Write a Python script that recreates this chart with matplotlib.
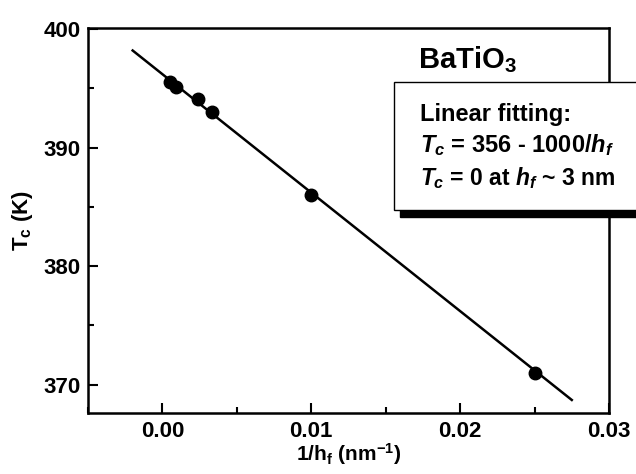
import matplotlib
matplotlib.use("Agg")
import matplotlib.pyplot as plt
from matplotlib.patches import Rectangle
from matplotlib.ticker import MultipleLocator
import numpy as np

# data
inv_h = [0.0005, 0.0009, 0.0024, 0.0033, 0.010, 0.025]
tc = [395.5, 395.1, 394.1, 393.0, 386.0, 371.0]
fit_x = [-0.002, 0.0275]
fit_intercept = 396.2
fit_slope = -1000.0

plt.rcParams['font.family'] = 'Liberation Sans'
plt.rcParams['font.weight'] = 'bold'
plt.rcParams['mathtext.fontset'] = 'custom'
plt.rcParams['mathtext.rm'] = 'Liberation Sans:bold'
plt.rcParams['mathtext.it'] = 'Liberation Sans:bold:italic'
plt.rcParams['mathtext.bf'] = 'Liberation Sans:bold'

fig = plt.figure(figsize=(6.36, 4.74), dpi=100)
ax = fig.add_axes([88/636, 1-413/474, (609-88)/636, (413-28)/474])

fx = np.array(fit_x)
ax.plot(fx, fit_intercept + fit_slope*fx, color='black', lw=1.8)
ax.plot(inv_h, tc, 'o', color='black', ms=9)

ax.set_xlim(-0.005, 0.03)
ax.set_ylim(367.6, 400.1)
ax.xaxis.set_minor_locator(MultipleLocator(0.005))
ax.yaxis.set_major_locator(MultipleLocator(10))
ax.yaxis.set_minor_locator(MultipleLocator(5))
ax.set_xticks([0.0, 0.01, 0.02, 0.03])
ax.set_xticklabels(['0.00', '0.01', '0.02', '0.03'])
ax.tick_params(which='both', direction='in', width=1.5, labelsize=16)
ax.tick_params(which='major', length=7)
ax.tick_params(which='minor', length=4)
ax.tick_params(axis='x', pad=6)
ax.tick_params(axis='y', pad=5)
for s in ax.spines.values():
    s.set_linewidth(1.8)

ax.set_xlabel(r'1/h$_\mathrm{f}$ (nm$^{-1}$)', fontsize=15, fontweight='bold', labelpad=-1)
ax.set_ylabel(r'T$_\mathrm{c}$ (K)', fontsize=16, fontweight='bold', labelpad=6)

fig.text(418/636, 1-60/474, r'BaTiO$_3$', fontsize=21, fontweight='bold',
         va='center', ha='left')

# shadowed text box, runs off the right edge
fig.patches.append(Rectangle((400/636, 1-217/474), 0.5, (217-88)/474,
                             transform=fig.transFigure, facecolor='black',
                             edgecolor='black', zorder=5))
fig.patches.append(Rectangle((394/636, 1-210/474), 0.5, (210-82)/474,
                             transform=fig.transFigure, facecolor='white',
                             edgecolor='black', lw=1.0, zorder=6))

fig.text(420/636, 1-114/474, 'Linear fitting:', fontsize=17, fontweight='bold',
         va='center', ha='left', zorder=7)
fig.text(420/636, 1-145/474, r'$T_c$ = 356 - 1000/$h_f$', fontsize=17,
         fontweight='bold', va='center', ha='left', zorder=7)
fig.text(420/636, 1-178/474, r'$T_c$ = 0 at $h_f$ ~ 3 nm', fontsize=16.5,
         fontweight='bold', va='center', ha='left', zorder=7)

fig.savefig('out.png', dpi=100)
